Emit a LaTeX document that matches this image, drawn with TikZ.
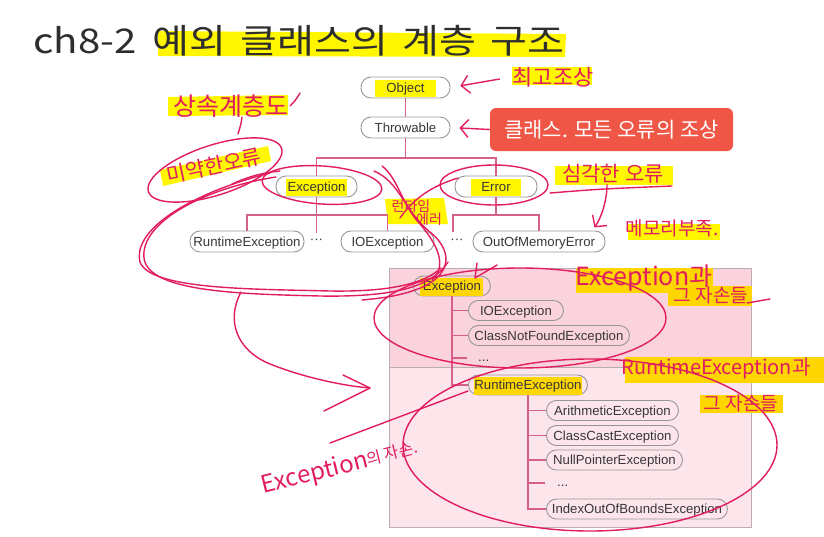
\documentclass[tikz,border=0pt]{standalone}
\usepackage{fontspec}
\setmainfont{Liberation Sans}
\newfontfamily\kr{Noto Sans CJK KR}
\usetikzlibrary{arrows.meta}
\definecolor{pencol}{RGB}{226,28,96}
\definecolor{hly}{RGB}{255,246,0}
\definecolor{hlo}{RGB}{255,214,0}
\definecolor{tline}{RGB}{214,96,140}
\definecolor{pillb}{RGB}{150,150,150}
\definecolor{pkA}{RGB}{250,211,221}
\definecolor{pkB}{RGB}{252,229,235}
\definecolor{panelb}{RGB}{185,175,178}
\definecolor{callout}{RGB}{240,86,70}
\definecolor{ptext}{RGB}{55,55,55}
\newcommand\hwf[1]{\kr\fontsize{#1}{#1}\selectfont}
\newcommand\hlbox[3]{{\setlength{\fboxsep}{0.5pt}\colorbox{#1}{\hspace{#2}\vrule height 12pt depth 4.5pt width 0pt #3\hspace{#2}}}}
\begin{document}
\begin{tikzpicture}[x=1pt,y=-1pt,
  pill/.style={draw=pillb, line width=0.9pt, rounded corners=10pt, minimum height=21pt,
    inner xsep=0pt, inner ysep=0pt, text height=9.5pt, text depth=0pt,
    font=\fontsize{13.2}{17}\selectfont, text=ptext},
  lpill/.style={pill, anchor=west, minimum height=20pt},
  tl/.style={draw=tline, line width=1.2pt},
  ink/.style={draw=pencol, line width=1.4pt, line cap=round, line join=round},
  barb/.style={-{Straight Barb[length=8pt,width=18pt,line width=1.4pt]}},
  hw/.style={text=pencol, inner sep=1pt},
  dots/.style={inner sep=0pt, font=\fontsize{13.2}{15}\selectfont, text=ptext}]
\useasboundingbox (0,0) rectangle (824,536);

% ---- lower panel
\fill[pkA] (389.5,268) rectangle (751,367.5);
\fill[pkB] (389.5,367.5) rectangle (751,527);
\draw[panelb, line width=1pt] (389.5,268) rectangle (751,527);
\draw[panelb, line width=0.8pt] (389.5,367.5) -- (751,367.5);

% ---- highlight bands of the handwriting
\fill[hly] (158,31) -- (566,34) -- (565,57) -- (158,56) -- cycle;
\fill[hly] (168,97) -- (288,95) -- (288,115) -- (168,116) -- cycle;
\fill[hly] (160,170) -- (268,146) -- (271,161) -- (163,186) -- cycle;
\fill[hly] (512,67) rectangle (592,85);
\fill[hly] (555,166) rectangle (673,185);
\fill[hly] (628,224) rectangle (720,240);
\fill[hly] (385,199) -- (444,198) -- (448,224) -- (388,224) -- cycle;
\fill[hlo] (576,268) rectangle (713,293);
\fill[hlo] (668,286) rectangle (752,306);
\fill[hlo] (625,357) rectangle (824,383);
\fill[hlo] (700,395) rectangle (783,413);

% ---- title
\node[anchor=base west, inner sep=0pt, font=\kr\fontsize{34}{40}\selectfont, text=black!82] (title) at (33,53)
  {\scalebox{1.18}[1]{ch8-2\hspace{14pt}예외\hspace{12pt}클래스의\hspace{12pt}계층\hspace{12pt}구조}};

% ---- callout
\node[fill=callout, rounded corners=6pt, text=white, minimum width=243pt, minimum height=43pt,
  inner sep=0pt, font=\hwf{21}] (callout) at (611.5,129.5) {클래스. 모든 오류의 조상};

% ---- upper tree
\node[pill, minimum width=89pt] (obj) at (405.5,87.5) {\hlbox{hly}{11pt}{Object}};
\node[pill, minimum width=89pt] (thr) at (405.5,127.5) {Throwable};
\node[pill, minimum width=81pt] (exc) at (316.5,186.5) {\hlbox{hly}{1pt}{Exception}};
\node[pill, minimum width=82pt] (err) at (496,186.5) {\hlbox{hly}{10pt}{Error}};
\node[pill, minimum width=114pt] (rte) at (247,241.5) {RuntimeException};
\node[pill, minimum width=93pt] (ioe) at (387.5,241.5) {IOException};
\node[pill, minimum width=132pt] (oom) at (539,241.5) {OutOfMemoryError};
\node[dots] (d1) at (316.5,241.5) {\textperiodcentered\textperiodcentered\textperiodcentered};
\node[dots] (d2) at (457,241.5) {\textperiodcentered\textperiodcentered\textperiodcentered};
\coordinate (b1) at (405.5,158);
\coordinate (b2) at (316.5,215);
\coordinate (b3) at (496,215);
\coordinate (d2top) at (453,232);
\draw[tl] (obj) -- (thr);
\draw[tl] (thr) -- (b1);
\draw[tl] (exc.north) |- (b1) -| (err.north);
\draw[tl] (exc.south) -- (316.5,233);
\draw[tl] (rte.north) |- (b2) -| (ioe.north);
\draw[tl] (err.south) -- (b3);
\draw[tl] (d2top) |- (b3) -| (oom.north);

% ---- lower tree
\node[lpill, minimum width=77pt] (lexc) at (413,286) {\hlbox{hlo}{2pt}{Exception}};
\node[lpill, minimum width=95pt] (lioe) at (468,310.5) {IOException};
\node[lpill, minimum width=161pt] (lcnf) at (468,335.5) {ClassNotFoundException};
\node[dots, anchor=base west] (ld1) at (478,361) {...};
\node[lpill, minimum width=119pt] (lrte) at (468,385) {\hlbox{hlo}{0pt}{RuntimeException}};
\node[lpill, minimum width=132pt] (arith) at (546,410.5) {ArithmeticException};
\node[lpill, minimum width=132pt] (ccast) at (546,435.5) {ClassCastException};
\node[lpill, minimum width=136pt] (npe) at (546,460) {NullPointerException};
\node[dots, anchor=base west] (ld2) at (557,486) {...};
\node[lpill, minimum width=181pt] (ioob) at (546,509) {IndexOutOfBoundsException};
\coordinate (t1) at (467,358);
\coordinate (t2) at (545,483);
\draw[tl] (lexc.south) |- (lrte.west);
\foreach \n in {lioe,lcnf} \draw[tl] (\n.west -| lexc.south) -- (\n.west);
\draw[tl] (t1 -| lexc.south) -- (t1);
\draw[tl] (lrte.south) |- (ioob.west);
\foreach \n in {arith,ccast,npe} \draw[tl] (\n.west -| lrte.south) -- (\n.west);
\draw[tl] (t2 -| lrte.south) -- (t2);

% ---- handwritten notes
\node[hw, font=\hwf{25}] (hsk) at (231,106) {상속계층도};
\node[hw, font=\hwf{21}, rotate=12] (hmy) at (214,166) {미약한오류};
\node[hw, font=\hwf{22}] (hcg) at (553,77) {최고조상};
\node[hw, font=\hwf{21}] (hsg) at (613,174) {심각한 오류};
\node[hw, font=\hwf{19}] (hmem) at (672,228) {메모리부족.};
\node[hw, font=\hwf{14}] (hrt1) at (411,206) {런타임};
\node[hw, font=\hwf{14}] (hrt2) at (429,219) {에러};
\node[hw, font=\hwf{25}] (hex1) at (644,278) {Exception과};
\node[hw, font=\hwf{19}] (hex2) at (711,295) {그 자손들};
\node[hw, font=\hwf{20}] (hrx1) at (716,369) {RuntimeException과};
\node[hw, font=\hwf{19}] (hrx2) at (741,403) {그 자손들};
\node[hw, font=\hwf{24}, rotate=14] (hexd1) at (315,474) {Exception};
\node[hw, font=\hwf{16}, rotate=14] (hexd2) at (392,453) {의 자손.};

% ---- pen strokes
\draw[ink, barb, shorten <=12pt, shorten >=10pt] (hcg.west) -- (obj.east);
\draw[ink, barb, shorten >=9pt] (callout.west) -- (thr.east);
\draw[ink] (550,193) .. controls (600,189) .. (672,186);
\draw[ink, barb, shorten >=4pt] ([xshift=-6pt]hsg.south) .. controls +(0,16) and +(9,-12) .. ([xshift=53pt]oom.north);
\draw[ink] (242,117) .. controls (241,124) .. (238,134);
\draw[ink] (290,106) .. controls (295,101) .. (300,93);
\draw[ink, rotate around={18:(215,170)}] (215,170) ellipse [x radius=70, y radius=25];
\draw[ink, rotate around={-4:(322,185)}] (322,185) ellipse [x radius=60, y radius=19];
\draw[ink] (494,185) ellipse [x radius=54, y radius=20];
\draw[ink] (232,184) .. controls (250,176) and (262,173) .. (280,171);
\draw[ink] (276,177) .. controls (205,188) and (140,222) .. (144,258)
  .. controls (148,292) and (240,294) .. (320,296) .. controls (385,297) and (430,290) .. (448,262);
\draw[ink] (270,173) .. controls (195,192) and (132,228) .. (140,262)
  .. controls (150,290) and (255,289) .. (330,291) .. controls (392,292) and (425,283) .. (441,268);
\draw[ink] (241,292) .. controls (226,320) and (236,350) .. (270,364) .. controls (305,378) and (345,386) .. (370,388);
\draw[ink] (343,375) -- (370,388) -- (324,411);
\draw[ink] (374,171) .. controls (400,182) and (405,212) .. (430,232)
  .. controls (452,250) and (452,272) .. (425,286) .. controls (405,295) and (385,298) .. (362,300);
\draw[ink] (382,166) .. controls (398,178) and (402,205) .. (420,224) .. controls (442,250) and (445,268) .. (432,280);
\draw[ink] (458,178) .. controls (432,186) and (414,198) .. (400,218);
\draw[ink] (477,263) -- (475,278) -- (497,265);
\draw[ink] (520,318) ellipse [x radius=146, y radius=50];
\draw[ink] (590,445) ellipse [x radius=187, y radius=86];
\draw[ink] (330,443) -- ([yshift=-6pt]lrte.west);
\draw[ink] (747,303) -- (770,299);
\end{tikzpicture}
\end{document}
